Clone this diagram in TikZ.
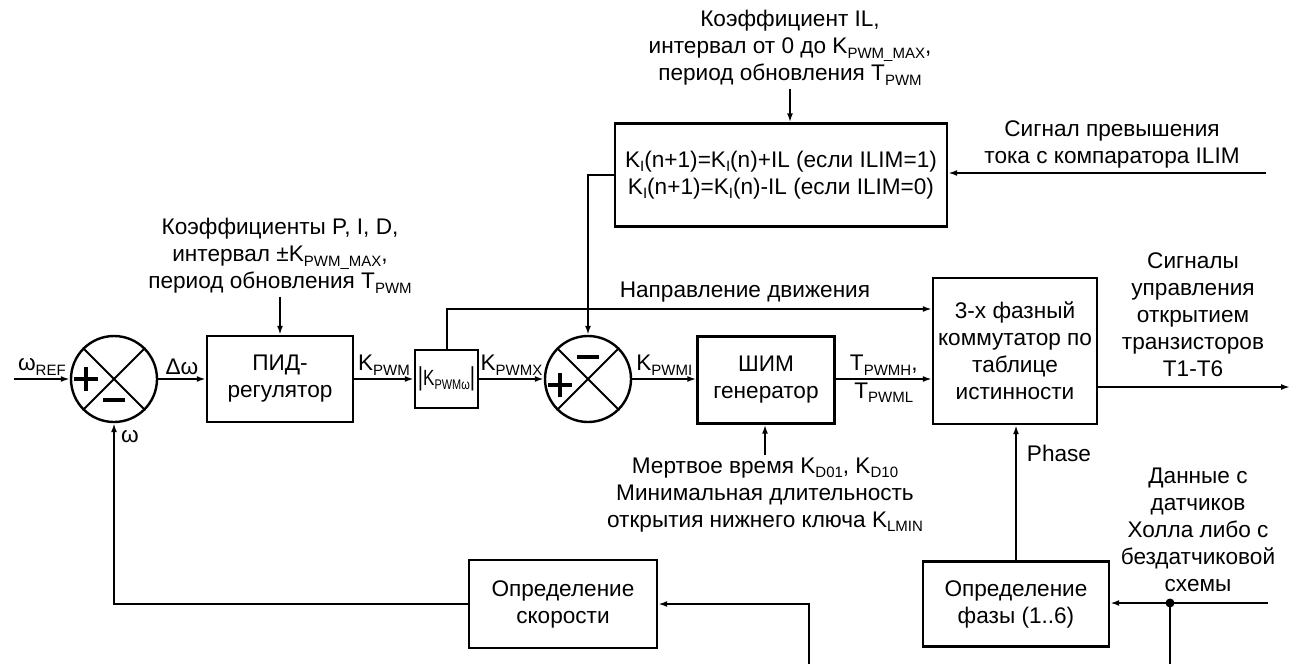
\documentclass[tikz,border=0pt]{standalone}
\usepackage{fontspec}
\setmainfont{Liberation Sans}
\usetikzlibrary{positioning,arrows.meta}
\newcommand{\subtxt}[2][15]{\raisebox{-0.35ex}{\fontsize{#1}{#1}\selectfont #2}}

\begin{document}
\begin{tikzpicture}[
  x=1pt, y=-1pt,
  font=\fontsize{22.6}{27}\selectfont,
  block/.style={draw,line width=2.4pt,align=center,inner sep=2pt},
  sumnode/.style={draw,circle,line width=2.4pt,minimum size=86pt,inner sep=0pt},
  lbl/.style={align=center,inner sep=3pt},
  conn/.style={line width=2pt,-{Latex[length=9pt,width=6pt]}},
  wire/.style={line width=2pt},
  signline/.style={line width=4.5pt}
]
\useasboundingbox (0,0) rectangle (1297,664);

% blocks
\node[sumnode] (sum1) at (114,379) {};
\node[block,minimum width=146pt,minimum height=86pt] (pid) at (280,379) {ПИД-\\регулятор};
\node[block,minimum width=63pt,minimum height=58pt,inner sep=0pt] (abs) at (446.5,379)
  {\scalebox{0.78}[1]{\fontsize{26}{26}\selectfont|\fontsize{22}{22}\selectfont K\subtxt[14]{PWMω}\fontsize{26}{26}\selectfont|}};
\node[sumnode] (sum2) at (588,379) {};
\node[block,minimum width=137pt,minimum height=87pt] (pwm) at (766,380) {ШИМ\\генератор};
\node[block,minimum width=164pt,minimum height=146pt] (comm) at (1015,351) {3-х фазный\\коммутатор по\\таблице\\истинности};
\node[block,minimum width=332pt,minimum height=103pt] (ilbox) at (781,175)
  {K\subtxt{I}(n+1)=K\subtxt{I}(n)+IL (если ILIM=1)\\K\subtxt{I}(n+1)=K\subtxt{I}(n)-IL (если ILIM=0)};
\node[block,minimum width=188pt,minimum height=88pt] (speed) at (563,604) {Определение\\скорости};
\node[block,minimum width=186pt,minimum height=85pt] (phase) at (1016,604) {Определение\\фазы (1..6)};

% crosses and signs
\foreach \s in {sum1,sum2}
  \draw[line width=2pt] (\s.45) -- (\s.225) (\s.135) -- (\s.315);
\draw[signline] (sum1.center) ++(-40,0) -- ++(24,0) (sum1.center) ++(-28,-12) -- ++(0,24);
\draw[signline] (sum1.center) ++(-11,21) -- ++(22,0);
\draw[signline] (sum2.center) ++(-40,6) -- ++(24,0) (sum2.center) ++(-28,-6) -- ++(0,24);
\draw[signline] (sum2.center) ++(-11,-22) -- ++(22,0);

% free ends
\coordinate (wrefin) at (14,379);
\coordinate (dirlvl) at (0,309);
\coordinate (ilimin) at (1266,173);
\coordinate (outend) at (1290,387);
\coordinate (hallin) at (1268,603);
\coordinate (hallj) at (1170,603);
\coordinate (hallbot) at (1170,664);
\coordinate (spdbot) at (809,664);

% labels
\node[lbl] (lpid) at (280,256) {Коэффициенты P, I, D,\\интервал ±K\subtxt{PWM\_MAX},\\период обновления T\subtxt{PWM}};
\node[lbl] (lil) at (790,48) {Коэффициент IL,\\интервал от 0 до K\subtxt{PWM\_MAX},\\период обновления T\subtxt{PWM}};
\node[lbl] (lilim) at (1112,144) {Сигнал превышения\\тока с компаратора ILIM};
\node[lbl] (ldir) at (745,292) {Направление движения};
\node[lbl] (lout) at (1193,315) {Сигналы\\управления\\открытием\\транзисторов\\T1-T6};
\node[lbl] (ldead) at (765,495) {Мертвое время K\subtxt{D01}, K\subtxt{D10}\\Минимальная длительность\\открытия нижнего ключа K\subtxt{LMIN}};
\node[lbl] (lphase) at (1059,453) {Phase};
\node[lbl] (lhall) at (1198,530) {Данные с\\датчиков\\Холла либо с\\бездатчиковой\\схемы};
\node[lbl] (lw) at (130,437) {ω};

% connectors
\draw[conn] (wrefin) -- node[lbl,above] (lwref) {ω\subtxt{REF}} (sum1);
\draw[conn] (sum1) -- node[lbl,above] (ldw) {Δω} (pid);
\draw[conn] (pid) -- node[lbl,above] (lkpwm) {K\subtxt{PWM}} (abs);
\draw[conn] (abs) -- node[lbl,above] (lkpwmx) {K\subtxt{PWMX}} (sum2);
\draw[conn] (sum2) -- node[lbl,above] (lkpwmi) {K\subtxt{PWMI}} (pwm.west |- sum2);
\draw[conn] (pwm.east |- sum2) -- node[lbl,above] (ltpwmh) {T\subtxt{PWMH},}
  node[lbl,below] (ltpwml) {T\subtxt{PWML}} (comm.west |- sum2);
\draw[conn] (abs.north) |- (comm.west |- dirlvl);
\draw[conn] (ilbox.west) -| (sum2.north);
\draw[conn] (ilimin) -- (ilimin -| ilbox.east);
\draw[conn] (lpid) -- (pid);
\draw[conn] (lil.south) -- (lil.south |- ilbox.north);
\draw[conn] (ldead.north) -- (ldead.north |- pwm.south);
\draw[conn] (comm.east |- outend) -- (outend);
\draw[conn] (phase.north) -- (phase.north |- comm.south);
\draw[conn] (hallin) -- (phase.east |- hallin);
\draw[wire] (hallj) -- (hallbot);
\fill (hallj) circle (4.5);
\draw[conn] (spdbot) |- (speed.east);
\draw[conn] (speed.west) -| (sum1.south);
\end{tikzpicture}
\end{document}
